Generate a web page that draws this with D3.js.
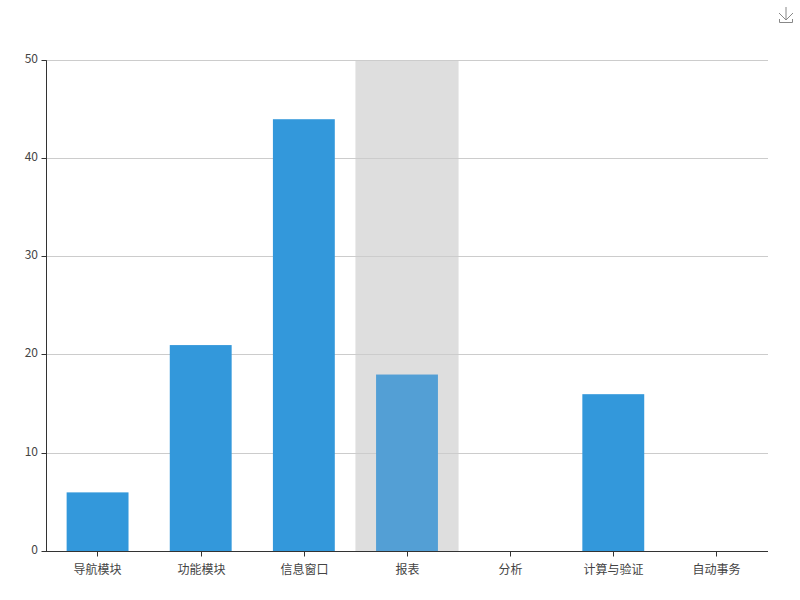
<!DOCTYPE html>
<html>
<head>
<meta charset="utf-8">
<script src="https://cdnjs.cloudflare.com/ajax/libs/d3/7.8.5/d3.min.js"></script>
<style>
html, body { margin: 0; padding: 0; background: #fff; }
svg { display: block; }
text { font-family: "Noto Sans CJK SC", "Noto Sans", sans-serif; font-size: 12px; }
</style>
</head>
<body>
<div id="chart"></div>
<script>
'use strict'
var categories = ["导航模块", "功能模块", "信息窗口", "报表", "分析", "计算与验证", "自动事务"];
var values = [6, 21, 44, 18, 0, 16, 0];
var yTicks = [0, 10, 20, 30, 40, 50];
var hovered = "报表";

var w = 800, h = 600;
var left = 46, right = 768, top_ = 60.3, bottom = 551.3;

var svg = d3.select("#chart").append("svg").attr("width", w).attr("height", h);

var x = d3.scaleBand().domain(categories).range([left, right]);
var y = d3.scaleLinear().domain([0, 50]).range([bottom, top_]);
var barWidth = x.bandwidth() * 0.6;

// lines sit on whole pixels, like canvas output
function snap(v){ return Math.floor(v) + 0.5; }

// hover shadow behind the bars
svg.append("rect")
	.attr("x", x(hovered))
	.attr("y", 60)
	.attr("width", x.bandwidth())
	.attr("height", 491)
	.style("fill", "#dedede");

// grid lines
svg.append("g").selectAll("line")
	.data(yTicks.filter(function(d){ return d > 0; }))
	.enter().append("line")
	.attr("x1", left)
	.attr("x2", right)
	.attr("y1", function(d){ return snap(y(d)); })
	.attr("y2", function(d){ return snap(y(d)); })
	.style("stroke", "#ccc")
	.style("stroke-width", 1);

svg.append("g").selectAll("rect")
	.data(values)
	.enter().append("rect")
	.attr("x", function(d, i){ return x(categories[i]) + (x.bandwidth() - barWidth) / 2; })
	.attr("y", function(d){ return y(d); })
	.attr("width", barWidth)
	.attr("height", function(d){ return 551 - y(d); })
	.style("fill", function(d, i){ return categories[i] === hovered ? "#539fd5" : "#3398db"; });

var xAxis = svg.append("g")
	.attr("transform", "translate(0,551.5)")
	.call(d3.axisBottom(x).tickSize(5).tickSizeOuter(0).tickPadding(9).offset(0));
var yAxis = svg.append("g")
	.attr("transform", "translate(46.5,0)")
	.call(d3.axisLeft(y).tickValues(yTicks).tickSize(5).tickSizeOuter(0).tickPadding(3.5).offset(0));

xAxis.selectAll(".tick").attr("transform", function(d){
	return "translate(" + (Math.round(x(d) + x.bandwidth() / 2 - 0.2) + 0.5) + ",0)";
});
yAxis.selectAll(".tick").attr("transform", function(d){
	return "translate(0," + snap(y(d)) + ")";
});
yAxis.selectAll(".tick text").attr("dy", "0.22em");

[xAxis, yAxis].forEach(function(a){
	a.selectAll(".domain").style("stroke", "#333").attr("fill", "none");
	a.selectAll(".tick line").style("stroke", "#333");
	a.selectAll("text").style("font-size", "12px").style("fill", "#444")
		.style("font-family", '"Noto Sans CJK SC", "Noto Sans", sans-serif');
});

// save-as-image toolbox icon
var icon = svg.append("g")
	.style("fill", "none")
	.style("stroke", "#888")
	.style("stroke-width", 1);
icon.append("path").attr("d", "M779 13 L786 20 L793 13");
icon.append("path").attr("d", "M786 7 V20");
icon.append("path").attr("d", "M779.5 19 V22.5 H792.5 V19");
</script>
</body>
</html>
